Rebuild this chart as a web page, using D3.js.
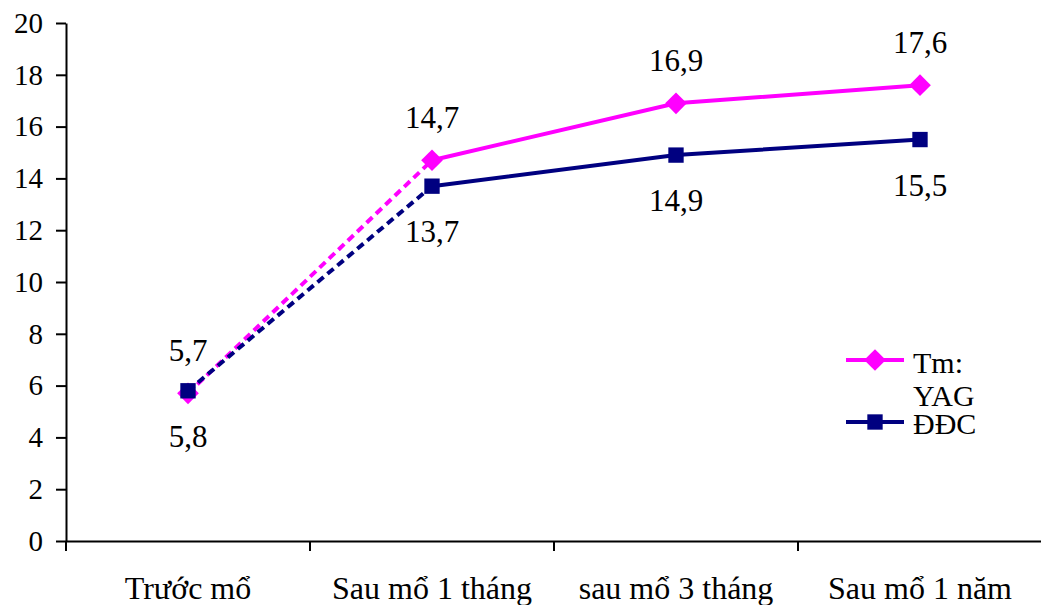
<!DOCTYPE html>
<html>
<head>
<meta charset="utf-8">
<script src="https://cdn.jsdelivr.net/npm/d3@7"></script>
<style>
  body { margin: 0; background: #fff; }
  svg text { font-family: "Liberation Serif", "Times New Roman", serif; fill: #000; }
  .axis path, .axis line { stroke: #000; stroke-width: 2px; }
</style>
</head>
<body>
<svg id="chart" width="1041" height="605"></svg>
<script>
const categories = ['Trước mổ', 'Sau mổ 1 tháng', 'sau mổ 3 tháng', 'Sau mổ 1 năm'];
const yagValues = [5.7, 14.7, 16.9, 17.6];
const ddcValues = [5.8, 13.7, 14.9, 15.5];
const yTicks = [0, 2, 4, 6, 8, 10, 12, 14, 16, 18, 20];
const seriesNames = [['Tm:', 'YAG'], ['ĐĐC']];

const pink = '#ff00ff', navy = '#000080';

const svg = d3.select('#chart');
const margin = { top: 23, right: 0, bottom: 64, left: 66 };
const width = 1041, height = 605;

const x = d3.scaleBand().domain(categories).range([margin.left, 1042]).padding(0);
const y = d3.scaleLinear().domain([0, 20]).range([height - margin.bottom, margin.top]);
const cx = c => x(c) + x.bandwidth() / 2;

// y axis
svg.append('g')
    .attr('class', 'axis')
    .attr('transform', `translate(${margin.left},0)`)
    .call(d3.axisLeft(y).tickValues(yTicks).tickSize(10).tickSizeOuter(0).tickPadding(13))
    .attr('font-family', null)
    .selectAll('text').style('font-size', '29px');

// x axis: labels at band centres, ticks at band edges
const xg = svg.append('g')
    .attr('class', 'axis')
    .attr('transform', `translate(0,${y(0)})`)
    .call(d3.axisBottom(x).tickSize(0).tickSizeOuter(0).tickPadding(35))
    .attr('font-family', null);
xg.selectAll('text').style('font-size', '32px');
xg.selectAll('.edge')
    .data(categories)
    .enter().append('line')
    .attr('x1', d => x(d)).attr('x2', d => x(d))
    .attr('y1', 0).attr('y2', 10)
    .attr('stroke', '#000').attr('stroke-width', 2);

const diamond = d3.symbol().type(d3.symbolDiamond2).size(300);
const square = d3.symbol().type(d3.symbolSquare2).size(300);

function drawSeries(values, color, sym) {
  const pts = categories.map((c, i) => [cx(c), y(values[i])]);
  svg.append('path')
      .attr('d', d3.line()(pts.slice(0, 2)))
      .attr('fill', 'none').attr('stroke', color)
      .attr('stroke-width', 4).attr('stroke-dasharray', '8,5');
  svg.append('path')
      .attr('d', d3.line()(pts.slice(1)))
      .attr('fill', 'none').attr('stroke', color).attr('stroke-width', 4);
  svg.selectAll(null)
      .data(pts)
      .enter().append('path')
      .attr('d', sym)
      .attr('transform', d => `translate(${d[0]},${d[1]})`)
      .attr('fill', color);
}

drawSeries(yagValues, pink, diamond);
drawSeries(ddcValues, navy, square);

// data labels: YAG above, ĐĐC below
const fmt = v => String(v).replace('.', ',');
svg.selectAll('.lblYag')
    .data(yagValues)
    .enter().append('text')
    .attr('x', (d, i) => cx(categories[i]))
    .attr('y', d => y(d) - 32)
    .attr('text-anchor', 'middle')
    .style('font-size', '31px')
    .text(fmt);
svg.selectAll('.lblDdc')
    .data(ddcValues)
    .enter().append('text')
    .attr('x', (d, i) => cx(categories[i]))
    .attr('y', d => y(d) + 56)
    .attr('text-anchor', 'middle')
    .style('font-size', '31px')
    .text(fmt);

// legend
const legend = svg.append('g').attr('transform', 'translate(846,360)');
[[pink, diamond, 0], [navy, square, 62]].forEach((s, i) => {
  const g = legend.append('g').attr('transform', `translate(0,${s[2]})`);
  g.append('line').attr('x1', 0).attr('x2', 58).attr('y1', 0).attr('y2', 0)
    .attr('stroke', s[0]).attr('stroke-width', 4);
  g.append('path')
    .attr('d', s[1]())
    .attr('transform', 'translate(29,0)')
    .attr('fill', s[0]);
  seriesNames[i].forEach((t, j) => {
    g.append('text')
      .attr('x', 67).attr('y', (i === 0 ? 13 : 12) + j * 33)
      .style('font-size', '30px')
      .text(t);
  });
});
</script>
</body>
</html>
